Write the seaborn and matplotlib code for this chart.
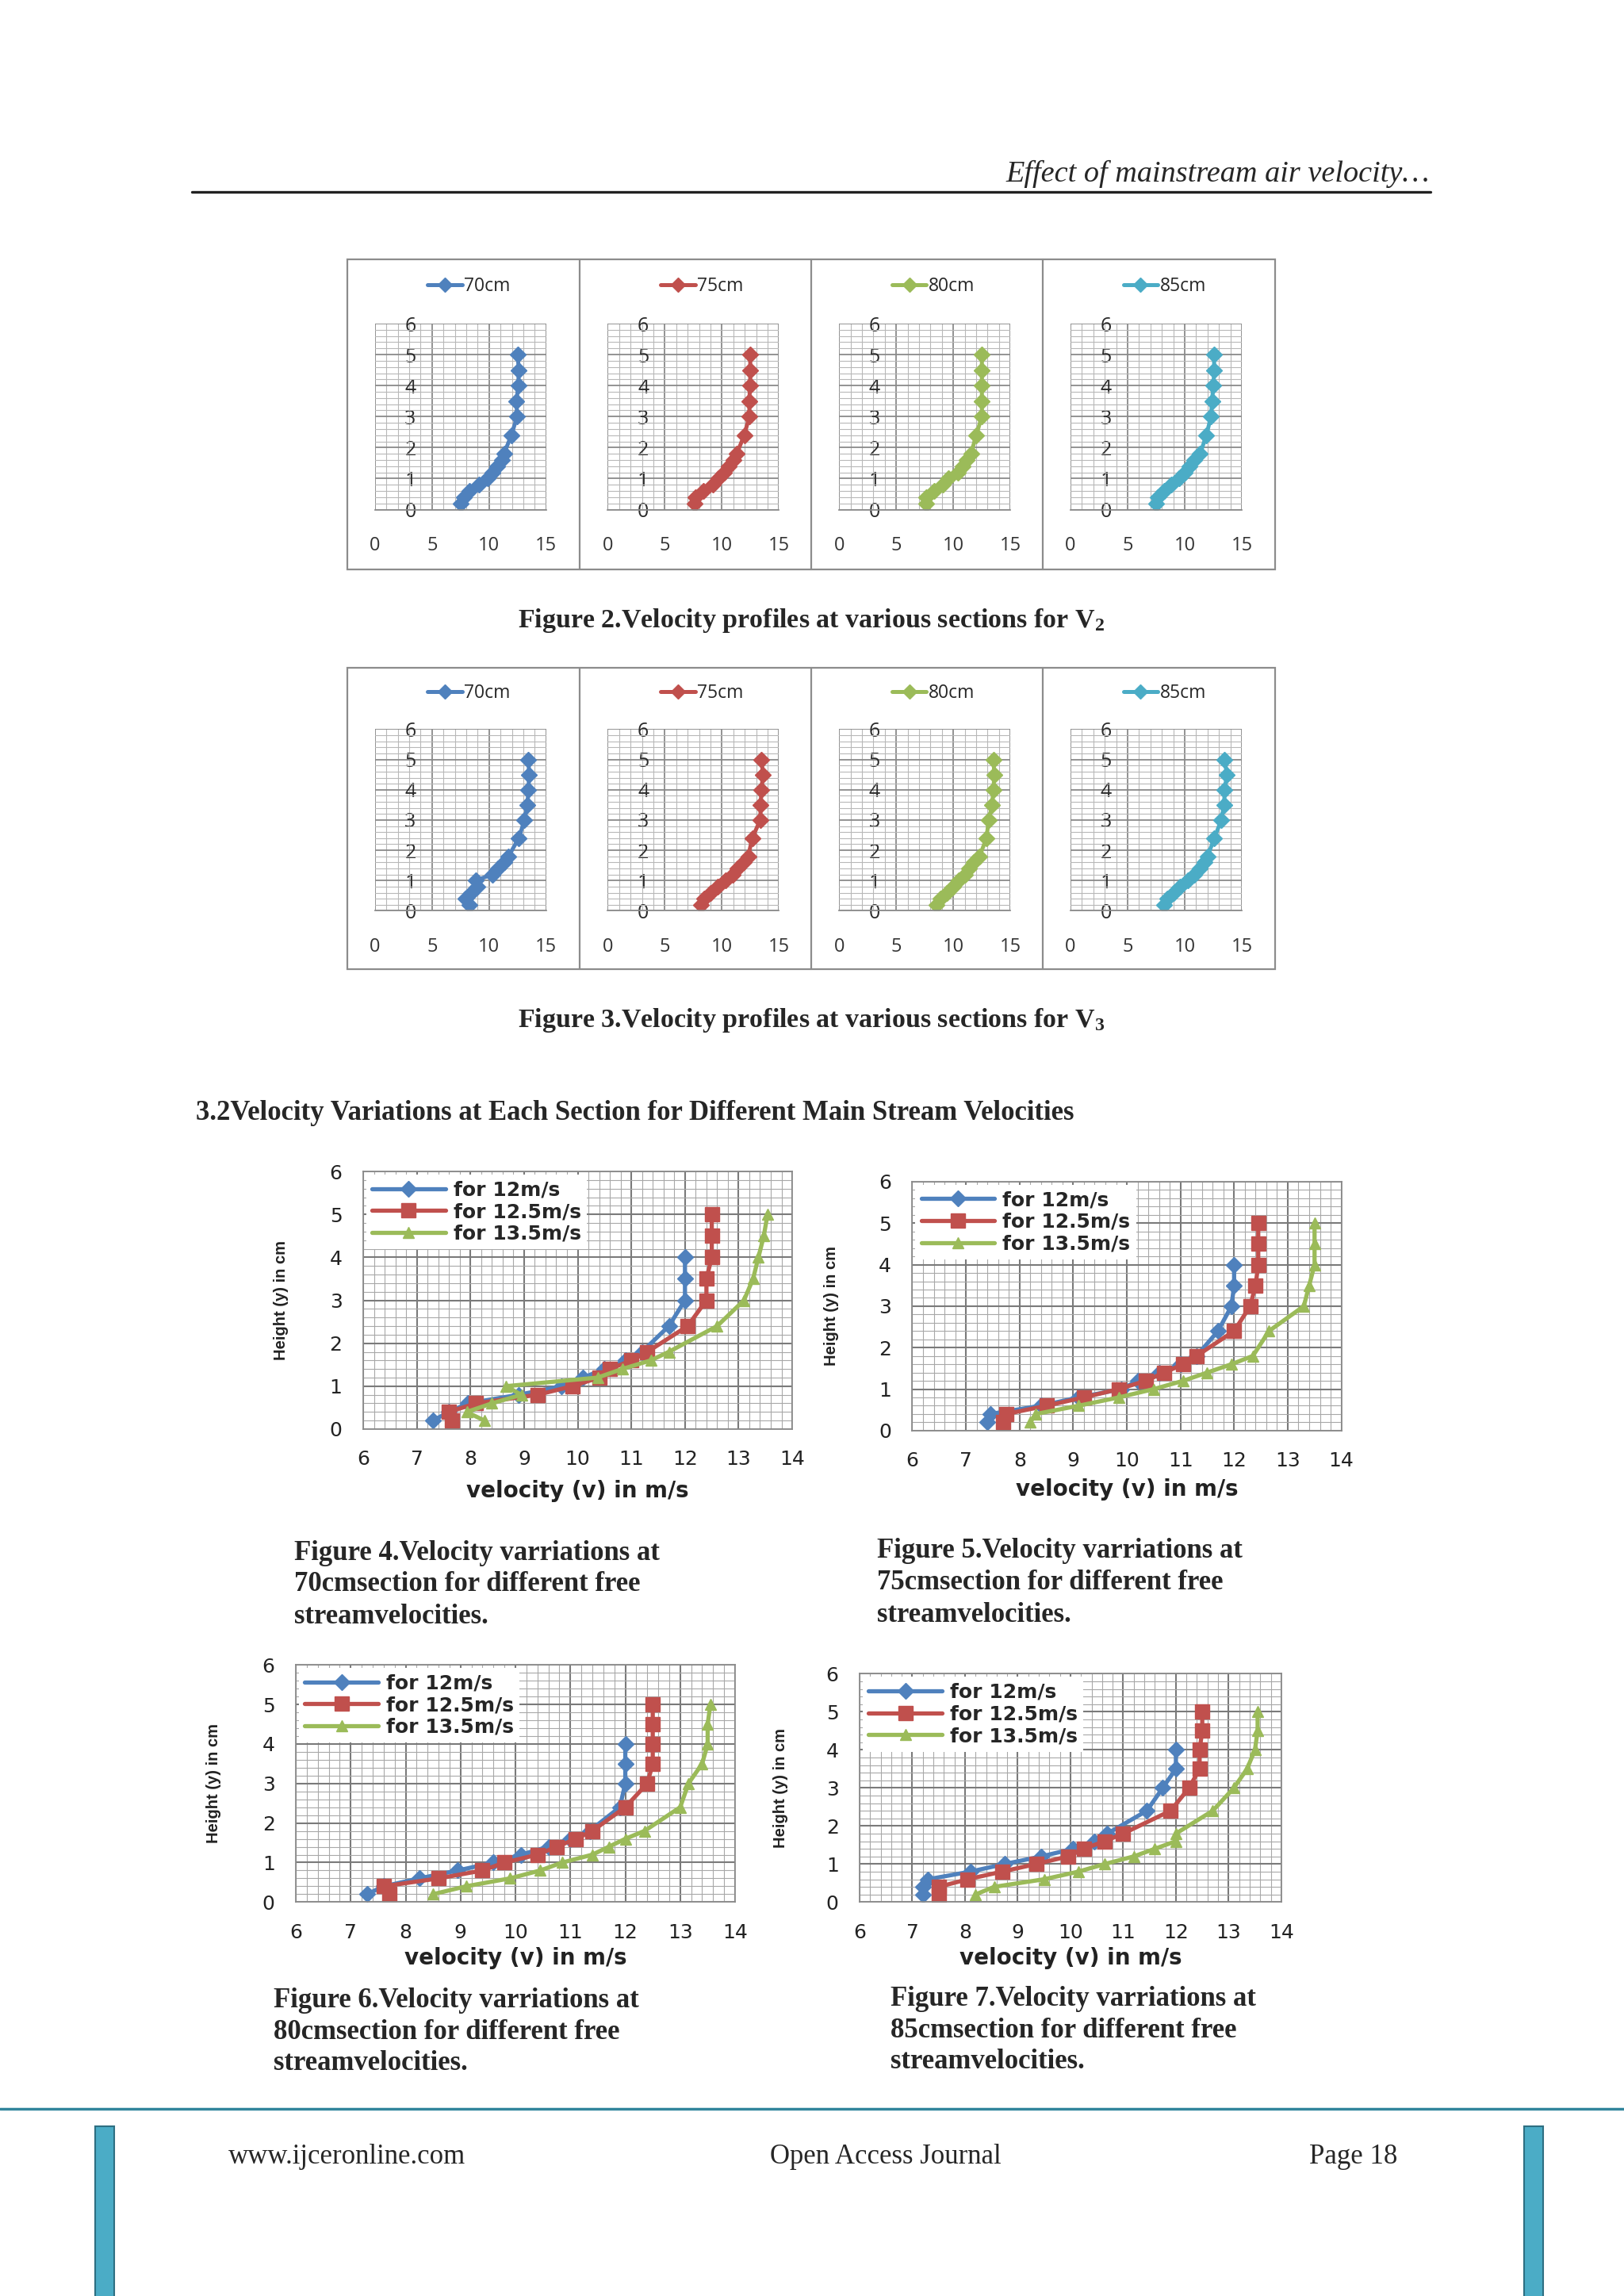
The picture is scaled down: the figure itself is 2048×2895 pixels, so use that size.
"""
Page 18 reproduction: velocity profiles (Fig. 2, 3) and velocity variations
per section for three free-stream velocities (Fig. 4-7).
"""

import matplotlib
matplotlib.use("Agg")

import matplotlib.pyplot as plt
import seaborn as sns
import numpy as np
from matplotlib.patches import Rectangle
from matplotlib.lines import Line2D

# layout is measured on a 1109 x 1568 preview of the 2048 x 2895 page
PW, PH = 1109, 1568

# ---------------------------------------------------------------- data ----
HEIGHTS = [0.2, 0.4, 0.6, 0.8, 1.0, 1.2, 1.4, 1.6, 1.8, 2.4, 3.0, 3.5, 4.0, 4.5, 5.0]
HEIGHTS_12 = [0.2, 0.4, 0.6, 0.8, 1.0, 1.2, 1.4, 1.6, 1.8, 2.4, 3.0, 3.5, 4.0]

SECTIONS = ["70cm", "75cm", "80cm", "85cm"]
SECTION_COLORS = ["#4F81BD", "#C0504D", "#9BBB59", "#4BACC6"]

# Figure 2 (V2)
V2_70 = [7.5, 7.8, 8.3, 9.1, 9.9, 10.3, 10.7, 11.1, 11.3, 11.95, 12.45, 12.4, 12.55, 12.6, 12.5]
V2_75 = [7.6, 7.7, 8.4, 9.2, 9.7, 10.2, 10.6, 11.0, 11.3, 11.95, 12.4, 12.4, 12.45, 12.5, 12.45]
V2_80 = [7.6, 7.6, 8.3, 9.05, 9.6, 10.4, 10.8, 11.2, 11.55, 12.0, 12.5, 12.5, 12.5, 12.5, 12.5]
V2_85 = [7.5, 7.65, 8.2, 8.85, 9.5, 10.0, 10.4, 10.8, 11.35, 11.9, 12.3, 12.4, 12.5, 12.6, 12.55]

# Figure 3 (V3)
V3_70 = [8.25, 7.9, 8.4, 9.0, 8.8, 10.3, 10.8, 11.3, 11.7, 12.6, 13.1, 13.35, 13.45, 13.5, 13.45]
V3_75 = [8.2, 8.45, 9.0, 9.6, 10.3, 10.95, 11.35, 11.9, 12.3, 12.65, 13.35, 13.4, 13.45, 13.6, 13.45]
V3_80 = [8.5, 8.9, 9.45, 10.0, 10.5, 11.0, 11.4, 11.8, 12.3, 12.9, 13.1, 13.4, 13.5, 13.6, 13.5]
V3_85 = [8.2, 8.45, 9.0, 9.6, 10.3, 10.8, 11.35, 11.75, 12.0, 12.6, 13.2, 13.45, 13.5, 13.7, 13.5]

# Figures 4-7: one section each, three free-stream velocities
STREAM_LABELS = ["for 12m/s", "for 12.5m/s", "for 13.5m/s"]
STREAM_COLORS = ["#4F81BD", "#C0504D", "#9BBB59"]
STREAM_MARKERS = ["D", "s", "^"]

S70_12 = [7.3, 7.6, 7.95, 8.9, 9.7, 10.1, 10.5, 10.9, 11.2, 11.7, 12.0, 12.0, 12.0]
S70_125 = [7.65, 7.6, 8.1, 9.25, 9.9, 10.4, 10.6, 11.0, 11.3, 12.05, 12.4, 12.4, 12.5, 12.5, 12.5]
S70_135 = [8.26, 7.93, 8.4, 8.95, 8.66, 10.37, 10.83, 11.36, 11.7, 12.6, 13.1, 13.27, 13.37, 13.47, 13.54]

S75_12 = [7.4, 7.45, 8.4, 9.1, 9.9, 10.2, 10.6, 11.0, 11.3, 11.7, 11.95, 12.0, 12.0]
S75_125 = [7.7, 7.75, 8.5, 9.2, 9.85, 10.35, 10.7, 11.05, 11.3, 12.0, 12.3, 12.4, 12.45, 12.45, 12.45]
S75_135 = [8.2, 8.3, 9.1, 9.85, 10.5, 11.05, 11.5, 11.95, 12.35, 12.65, 13.3, 13.4, 13.5, 13.5, 13.5]

S80_12 = [7.3, 7.6, 8.25, 8.95, 9.6, 10.1, 10.6, 11.0, 11.35, 11.9, 12.0, 12.0, 12.0]
S80_125 = [7.7, 7.6, 8.6, 9.4, 9.8, 10.4, 10.75, 11.1, 11.4, 12.0, 12.4, 12.5, 12.5, 12.5, 12.5]
S80_135 = [8.5, 9.1, 9.9, 10.45, 10.85, 11.4, 11.7, 12.0, 12.35, 13.0, 13.15, 13.4, 13.5, 13.5, 13.55]

S85_12 = [7.2, 7.2, 7.3, 8.1, 8.75, 9.45, 10.05, 10.45, 10.7, 11.45, 11.75, 12.0, 12.0]
S85_125 = [7.5, 7.5, 8.05, 8.7, 9.35, 9.95, 10.25, 10.65, 11.0, 11.9, 12.25, 12.45, 12.45, 12.5, 12.5]
S85_135 = [8.2, 8.55, 9.5, 10.15, 10.65, 11.2, 11.6, 12.0, 12.0, 12.7, 13.1, 13.35, 13.5, 13.55, 13.55]

SERIF = "Liberation Serif"
GRID_MAJOR = "#8a8a8a"
GRID_MINOR = "#b8b8b8"
BOLD_SERIF_SIZE = 25


def page_axes(fig, x0, y0, x1, y1):
    """Axes placed by preview-pixel box (left, top, right, bottom)."""
    return fig.add_axes([x0 / PW, 1 - y1 / PH, (x1 - x0) / PW, (y1 - y0) / PH])


def page_text(fig, x, y, s, **kw):
    return fig.text(x / PW, 1 - y / PH, s, **kw)


def page_line(fig, x0, x1, y0, y1, **kw):
    fig.add_artist(Line2D([x0 / PW, x1 / PW], [1 - y0 / PH, 1 - y1 / PH],
                          transform=fig.transFigure, **kw))


def page_rect(fig, x0, y0, x1, y1, **kw):
    fig.add_artist(Rectangle((x0 / PW, 1 - y1 / PH), (x1 - x0) / PW, (y1 - y0) / PH,
                             transform=fig.transFigure, **kw))


def profile_panel(ax, vel, label, color):
    sns.lineplot(x=vel, y=HEIGHTS, sort=False, estimator=None, ax=ax,
                 color=color, lw=3.6, marker="D", markersize=10.5,
                 markeredgecolor=color, markeredgewidth=1, label=label)
    ax.set_xlim(0, 15)
    ax.set_ylim(0, 6)
    ax.set_xticks([0, 5, 10, 15])
    ax.set_xticks(np.arange(0, 15.01, 1), minor=True)
    ax.set_yticks(range(0, 7))
    ax.set_yticks(np.arange(0, 6.01, 0.2), minor=True)
    ax.grid(True, which="major", color=GRID_MAJOR, lw=1.3)
    ax.grid(True, which="minor", color=GRID_MINOR, lw=0.8)
    ax.set_axisbelow(True)
    ax.spines["top"].set_visible(False)
    ax.spines["right"].set_visible(False)
    ax.spines["left"].set_position(("data", 3.7))
    ax.spines["left"].set_color("none")
    ax.spines["bottom"].set_color(GRID_MAJOR)
    ax.tick_params(axis="y", which="both", length=0, pad=1, labelsize=18,
                   labelcolor="#2a2a2a", labelfontfamily="Open Sans")
    ax.tick_params(axis="x", which="major", length=10, width=1.2, color=GRID_MAJOR,
                   pad=14, labelsize=17, labelcolor="#333333", labelfontfamily="Open Sans")
    ax.tick_params(axis="x", which="minor", length=0)
    ax.set_xlabel("")
    ax.set_ylabel("")
    ax.legend(loc="center", bbox_to_anchor=(0.55, 1.2), frameon=False,
              prop={"family": "Open Sans", "size": 16.5}, handlelength=1.9,
              handletextpad=0.1, markerscale=0.9)


def section_chart(ax, series, xlab_y, ylab_x):
    for vel, lab, col, mk in zip(series, STREAM_LABELS, STREAM_COLORS, STREAM_MARKERS):
        hts = HEIGHTS_12 if len(vel) == len(HEIGHTS_12) else HEIGHTS
        ms = {"D": 10.5, "s": 13.5, "^": 10.5}[mk]
        sns.lineplot(x=vel, y=hts, sort=False, estimator=None, ax=ax,
                     color=col, lw=3.8, marker=mk, markersize=ms,
                     markeredgecolor=col, markeredgewidth=1, label=lab)
    ax.set_xlim(6, 14)
    ax.set_ylim(0, 6)
    ax.set_xticks(range(6, 15))
    ax.set_xticks(np.arange(6, 14.01, 0.2), minor=True)
    ax.set_yticks(range(0, 7))
    ax.set_yticks(np.arange(0, 6.01, 0.2), minor=True)
    ax.grid(True, which="major", color="#7a7a7a", lw=1.5)
    ax.grid(True, which="minor", color="#a8a8a8", lw=0.8)
    ax.set_axisbelow(True)
    for sp in ax.spines.values():
        sp.set_color("#8a8a8a")
    ax.tick_params(which="major", length=7, width=1.2, color="#8a8a8a", pad=12,
                   labelsize=18, labelcolor="#222222", labelfontfamily="DejaVu Sans")
    ax.tick_params(which="minor", length=0)
    ax.set_xlabel("velocity (v) in m/s", fontsize=20, fontweight="bold",
                  family="DejaVu Sans", va="center", color="#222222")
    ax.xaxis.set_label_coords(0.5, xlab_y)
    ax.set_ylabel("Height (y) in cm", fontsize=14.5, fontweight="bold",
                  family="Liberation Sans", va="center", color="#222222")
    ax.yaxis.set_label_coords(ylab_x, 0.5)
    ax.legend(loc="upper left", bbox_to_anchor=(0.0, 1.0), frameon=True,
              facecolor="white", edgecolor="none", framealpha=1, fancybox=False,
              prop={"family": "DejaVu Sans", "weight": "bold", "size": 18},
              handlelength=3.7, labelspacing=0.15, borderpad=0.3,
              borderaxespad=0.15, handletextpad=0.4)


def main():
    sns.set_theme(style="white")
    plt.rcParams["font.family"] = ["DejaVu Sans"]
    plt.rcParams["mathtext.fontset"] = "custom"
    plt.rcParams["mathtext.rm"] = "Liberation Serif:bold"
    plt.rcParams["mathtext.it"] = "Liberation Serif:bold"

    fig = plt.figure(figsize=(20.48, 28.95), dpi=100)
    fig.patch.set_facecolor("white")

    # header
    page_text(fig, 976, 119, "Effect of mainstream air velocity…", family=SERIF,
              style="italic", fontsize=27.5, ha="right", va="center")
    page_line(fig, 131, 977, 131, 131, color="#222222", lw=2.4)

    # Figures 2 and 3: four section panels in a boxed strip
    lefts = [237, 396, 554, 712]
    strips = [
        ([V2_70, V2_75, V2_80, V2_85], 177, 389, 221, 348),
        ([V3_70, V3_75, V3_80, V3_85], 456, 662, 498, 622),
    ]
    for profiles, box_top, box_bot, ax_top, ax_bot in strips:
        page_rect(fig, 237, box_top, 871, box_bot, fill=False, ec="#8c8c8c", lw=1.6)
        for xdiv in lefts[1:]:
            page_line(fig, xdiv, xdiv, box_top, box_bot, color="#8c8c8c", lw=1.6)
        for left, vel, sec, col in zip(lefts, profiles, SECTIONS, SECTION_COLORS):
            ax = page_axes(fig, left + 19, ax_top, left + 136, ax_bot)
            profile_panel(ax, vel, sec, col)

    page_text(fig, 554, 424, r"Figure 2.Velocity profiles at various sections for V$_2$",
              family=SERIF, fontweight="bold", fontsize=24.5, ha="center", va="center")
    page_text(fig, 554, 697, r"Figure 3.Velocity profiles at various sections for V$_3$",
              family=SERIF, fontweight="bold", fontsize=24.5, ha="center", va="center")
    page_text(fig, 134, 760,
              "3.2Velocity Variations at Each Section for Different Main Stream Velocities",
              family=SERIF, fontweight="bold", fontsize=BOLD_SERIF_SIZE, ha="left", va="center")

    # Figures 4-7
    charts = [
        ([S70_12, S70_125, S70_135], (248, 800, 541, 976), -0.239, -0.191),
        ([S75_12, S75_125, S75_135], (623, 807, 916, 977), -0.235, -0.188),
        ([S80_12, S80_125, S80_135], (202, 1137, 502, 1299), -0.235, -0.187),
        ([S85_12, S85_125, S85_135], (587, 1143, 875, 1299), -0.244, -0.1875),
    ]
    for series, box, xl, yl in charts:
        ax = page_axes(fig, *box)
        section_chart(ax, series, xl, yl)

    captions = [
        (201, [1061, 1082, 1104], "70"),
        (599, [1059, 1081, 1103], "75"),
        (187, [1366, 1388, 1409], "80"),
        (608, [1365, 1387, 1408], "85"),
    ]
    for num, (x, ys, sec) in zip([4, 5, 6, 7], captions):
        lines = [f"Figure {num}.Velocity varriations at",
                 f"{sec}cmsection for different free",
                 "streamvelocities."]
        for y, s in zip(ys, lines):
            page_text(fig, x, y, s, family=SERIF, fontweight="bold",
                      fontsize=BOLD_SERIF_SIZE, ha="left", va="center")

    # footer
    page_line(fig, 0, PW, 1440, 1440, color="#31859C", lw=2.5)
    for bx in (65, 1041):
        page_rect(fig, bx, 1452, bx + 13, PH + 5, fc="#4BACC6", ec="#2E6F82", lw=1.5)
    page_text(fig, 156, 1473, "www.ijceronline.com", family=SERIF, fontsize=25,
              ha="left", va="center")
    page_text(fig, 605, 1473, "Open Access Journal", family=SERIF, fontsize=25,
              ha="center", va="center")
    page_text(fig, 894, 1473, "Page 18", family=SERIF, fontsize=25,
              ha="left", va="center")

    fig.savefig("out.png", dpi=100)
    plt.close(fig)


if __name__ == "__main__":
    main()
